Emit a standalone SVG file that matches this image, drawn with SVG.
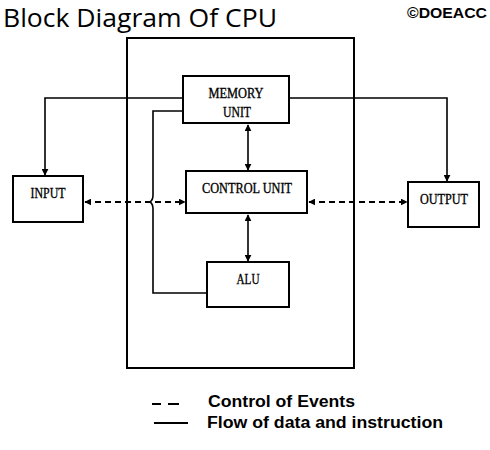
<svg xmlns="http://www.w3.org/2000/svg" width="490" height="450" viewBox="0 0 490 450">
<defs>
<marker id="ah" viewBox="0 0 10 10" refX="9" refY="5" markerWidth="7" markerHeight="7" markerUnits="userSpaceOnUse" orient="auto-start-reverse">
<path d="M0,0 L10,5 L0,10 z" fill="#000"/>
</marker>
<style>
.box{fill:#fff;stroke:#000;stroke-width:2}
.ln{fill:none;stroke:#000;stroke-width:1.6}
.dash{fill:none;stroke:#000;stroke-width:1.8;stroke-dasharray:6,4}
.lbl{font-family:"Liberation Serif",serif;font-size:15px;fill:#000;stroke:#000;stroke-width:0.35;text-anchor:middle}
.leg{font-family:"Liberation Sans",Arial,sans-serif;font-size:16px;font-weight:bold;fill:#000}
</style>
</defs>
<rect width="490" height="450" fill="#fff"/>
<text x="3" y="27" font-family="'Open Sans',sans-serif" font-size="25" textLength="274" lengthAdjust="spacingAndGlyphs">Block Diagram Of CPU</text>
<text x="407" y="18" font-family="'Liberation Sans',Arial,sans-serif" font-size="14" font-weight="bold" textLength="80" lengthAdjust="spacingAndGlyphs">©DOEACC</text>

<g id="cpu"><rect x="127" y="38" width="227" height="330" fill="none" stroke="#000" stroke-width="2"/></g>

<g id="connectors">
<path class="ln" d="M183,98 H45 V175" marker-end="url(#ah)"/>
<path class="ln" d="M289,98 H447 V181" marker-end="url(#ah)"/>
<path class="ln" d="M183,111 H153 V195 Q153,200 150,202 Q153,204 153,209 V293 H207"/>
<path class="ln" d="M248,125 V170" marker-start="url(#ah)" marker-end="url(#ah)"/>
<path class="ln" d="M248,215 V261" marker-start="url(#ah)" marker-end="url(#ah)"/>
<path class="dash" d="M85,202 H185" marker-start="url(#ah)" marker-end="url(#ah)"/>
<path class="dash" d="M309,202 H407" marker-start="url(#ah)" marker-end="url(#ah)"/>
</g>

<g id="memory"><rect class="box" x="183" y="76" width="106" height="47"/>
<text class="lbl" x="236" y="98" textLength="55" lengthAdjust="spacingAndGlyphs">MEMORY</text>
<text class="lbl" x="237" y="117" textLength="28" lengthAdjust="spacingAndGlyphs">UNIT</text></g>

<g id="control"><rect class="box" x="186" y="171" width="121" height="42"/>
<text class="lbl" x="247" y="193" textLength="90" lengthAdjust="spacingAndGlyphs">CONTROL UNIT</text></g>

<g id="alu"><rect class="box" x="207" y="262" width="82" height="45"/>
<text class="lbl" x="248" y="284" textLength="23" lengthAdjust="spacingAndGlyphs">ALU</text></g>

<g id="input"><rect class="box" x="13" y="176" width="70" height="46"/>
<text class="lbl" x="48" y="198" textLength="35" lengthAdjust="spacingAndGlyphs">INPUT</text></g>

<g id="output"><rect class="box" x="408" y="182" width="71" height="45"/>
<text class="lbl" x="444" y="204" textLength="48" lengthAdjust="spacingAndGlyphs">OUTPUT</text></g>

<g id="legend">
<line x1="152" y1="404" x2="161" y2="404" stroke="#000" stroke-width="2"/>
<line x1="168" y1="404" x2="179" y2="404" stroke="#000" stroke-width="2"/>
<line x1="154" y1="423" x2="188" y2="423" stroke="#000" stroke-width="2"/>
<text class="leg" x="208" y="407" textLength="147" lengthAdjust="spacingAndGlyphs">Control of Events</text>
<text class="leg" x="207" y="428" textLength="236" lengthAdjust="spacingAndGlyphs">Flow of data and instruction</text>
</g>
</svg>
